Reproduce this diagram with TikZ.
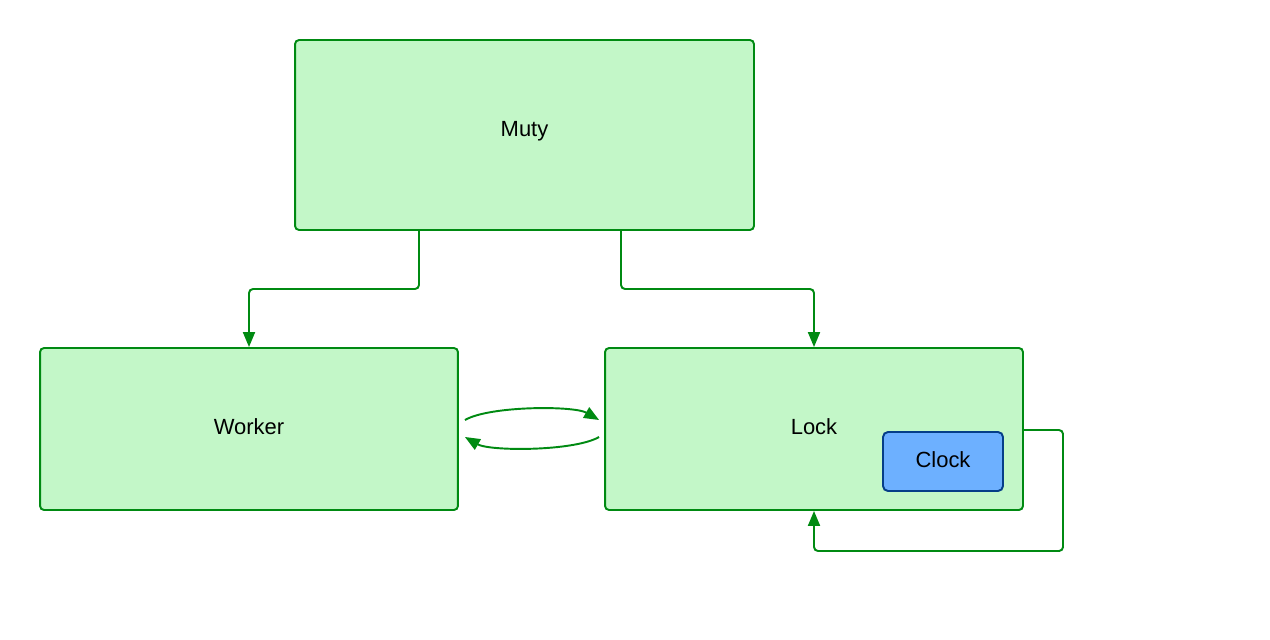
\documentclass[tikz,border=0pt]{standalone}
\usepackage{fontspec}
\setmainfont{Liberation Sans}
\usetikzlibrary{arrows.meta,positioning,calc}
\definecolor{boxfill}{HTML}{C3F7C8}
\definecolor{boxline}{HTML}{008A12}
\definecolor{clkfill}{HTML}{6DB0FF}
\definecolor{clkline}{HTML}{053E88}

\begin{document}
\begin{tikzpicture}
[x=0.02cm,y=-0.02cm,
font=\fontsize{12.5}{15}\selectfont,
comp/.style={draw=boxline,fill=boxfill,line width=1.1pt,rounded corners=0.08cm,inner sep=0pt},
part/.style={draw=clkline,fill=clkfill,line width=1.1pt,rounded corners=0.1cm,inner sep=0pt},
arr/.style={boxline,line width=1.1pt,rounded corners=0.08cm,-{Triangle[length=0.3cm,width=0.24cm]}},
swap/.style={arr,bend left=30,looseness=0.55}]
\useasboundingbox (0,0) rectangle (1270,639);
%%%%%%%%%%
%% components
\node[comp,minimum width=9.18cm,minimum height=3.8cm] (muty) at (524.5,135) {};
\node at (524.5,131) {Muty};
\node[comp,minimum width=8.36cm,minimum height=3.24cm] (worker) at (249,429) {};
\node at (249,427) {Worker};
\node[comp,minimum width=8.36cm,minimum height=3.24cm] (lock) at (814,429) {};
\node at (814,427) {Lock};
\node[part,minimum width=2.4cm,minimum height=1.18cm] (clock) at (943,461.5) {};
\node at (943,459.5) {Clock};

%% connections
\draw[arr] (muty.south -| 419,0) |- (249,289) -- (worker.north);
\draw[arr] (muty.south -| 621,0) |- (814,289) -- (lock.north);
\draw[arr] (lock.east |- 0,430) -| (1063,551) -| (lock.south);
\draw[swap] ($(worker.east)+(6,-9)$) to ($(lock.west)+(-5,-9)$);
\draw[swap] ($(lock.west)+(-5,8)$) to ($(worker.east)+(6,8)$);
\end{tikzpicture}
\end{document}
